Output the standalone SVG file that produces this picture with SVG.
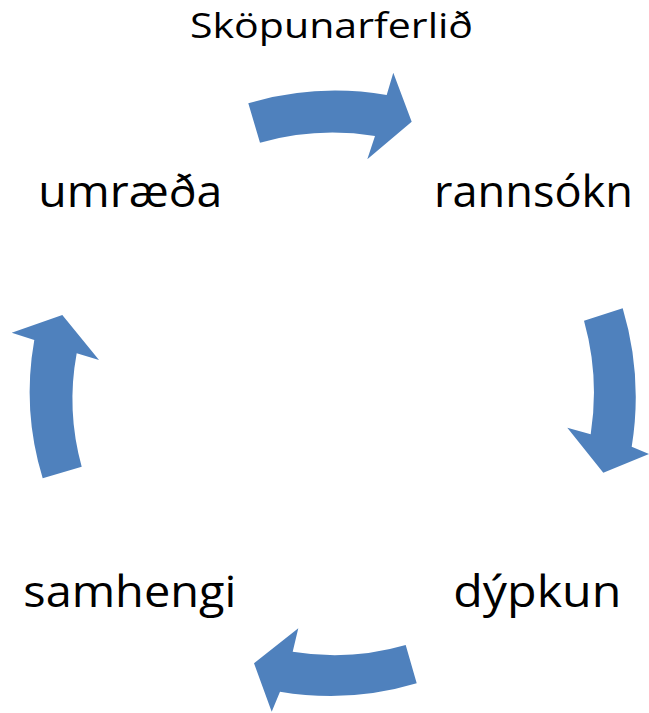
<svg xmlns="http://www.w3.org/2000/svg" width="649" height="713" viewBox="0 0 649 713">
<style>
.arr{fill:#4F81BD;}
.lbl{font-family:"Open Sans","Liberation Sans",Arial,sans-serif;font-size:43px;fill:#000;}
.ttl{font-family:"Open Sans","Liberation Sans",Arial,sans-serif;font-size:34px;fill:#000;}
</style>
<rect width="649" height="713" fill="#fff"/>
<g id="title"><text class="ttl" x="190" y="37.5" textLength="283" lengthAdjust="spacingAndGlyphs">Sköpunarferlið</text></g>
<g id="rannsokn"><text class="lbl" x="434" y="206.7" textLength="199" lengthAdjust="spacingAndGlyphs">rannsókn</text></g>
<g id="dypkun"><text class="lbl" x="453.3" y="606.7" textLength="168" lengthAdjust="spacingAndGlyphs">dýpkun</text></g>
<g id="samhengi"><text class="lbl" x="23.3" y="606.7" textLength="213" lengthAdjust="spacingAndGlyphs">samhengi</text></g>
<g id="umraeda"><text class="lbl" x="38.3" y="206.7" textLength="184" lengthAdjust="spacingAndGlyphs">umræða</text></g>
<g id="connectors">
<path class="arr" d="M248.3,103.3 A307,307 0 0 1 386.7,95 L393.3,72.7 L411.7,121.7 L367.3,159.3 L375,136 A267,267 0 0 0 260,142.7 Z"/>
<path class="arr" d="M622.7,308.3 A310,310 0 0 1 631.7,446.7 L649.3,454 L603.3,472.7 L567.3,427.7 L590.7,434.3 A268,268 0 0 0 584,320.7 Z"/>
<path class="arr" d="M416.7,683.3 A300,300 0 0 1 280,691.7 L271.7,711.7 L254,663.3 L298.3,628.3 L292.7,651.7 A256,256 0 0 0 405.7,645 Z"/>
<path class="arr" d="M42.7,478.3 A295,295 0 0 1 34.3,340 L11.7,332.7 L62.3,315 L99,360 L76.7,353.3 A252,252 0 0 0 81.7,466.7 Z"/>
</g>
</svg>
